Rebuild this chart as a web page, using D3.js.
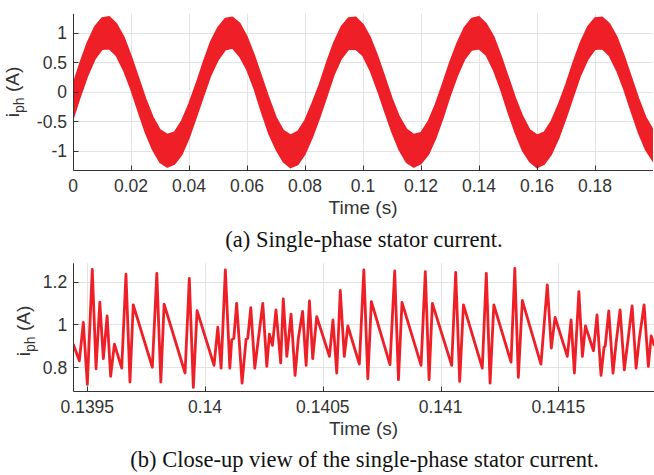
<!DOCTYPE html>
<html>
<head>
<meta charset="utf-8">
<script src="https://cdn.jsdelivr.net/npm/d3@7"></script>
<style>
  body { margin: 0; background: #fff; }
  svg { display: block; }
</style>
</head>
<body>
<div id="chartRegion"></div>
<script>
/* (a) stator current over 0.2 s - the ripple is drawn as a band (upper / lower envelope) */
var tTop = [0, 0.0025, 0.005, 0.0075, 0.01, 0.0125, 0.015, 0.0175, 0.02, 0.0225,
  0.025, 0.0275, 0.03, 0.0325, 0.035, 0.0375, 0.04, 0.0425, 0.045, 0.0475,
  0.05, 0.0525, 0.055, 0.0575, 0.06, 0.0625, 0.065, 0.0675, 0.07, 0.0725,
  0.075, 0.0775, 0.08, 0.0825, 0.085, 0.0875, 0.09, 0.0925, 0.095, 0.0975,
  0.1, 0.1025, 0.105, 0.1075, 0.11, 0.1125, 0.115, 0.1175, 0.12, 0.1225,
  0.125, 0.1275, 0.13, 0.1325, 0.135, 0.1375, 0.14, 0.1425, 0.145, 0.1475,
  0.15, 0.1525, 0.155, 0.1575, 0.16, 0.1625, 0.165, 0.1675, 0.17, 0.1725,
  0.175, 0.1775, 0.18, 0.1825, 0.185, 0.1875, 0.19, 0.1925, 0.195, 0.1975, 0.2];

var iUpper = [0.12, 0.50, 0.84, 1.10, 1.25, 1.27, 1.15, 0.93, 0.61, 0.25, -0.11, -0.42, -0.64, -0.72, -0.68, -0.49, -0.20,
  0.14, 0.51, 0.85, 1.09, 1.24, 1.26, 1.16, 0.93, 0.62, 0.26, -0.10, -0.43, -0.65, -0.73, -0.67, -0.48, -0.19,
  0.13, 0.50, 0.84, 1.10, 1.25, 1.26, 1.14, 0.92, 0.61, 0.25, -0.11, -0.42, -0.63, -0.72, -0.69, -0.50, -0.21,
  0.14, 0.51, 0.83, 1.09, 1.24, 1.27, 1.15, 0.94, 0.62, 0.26, -0.10, -0.41, -0.64, -0.73, -0.68, -0.49, -0.20,
  0.13, 0.50, 0.84, 1.10, 1.25, 1.26, 1.15, 0.93, 0.61, 0.25, -0.11, -0.43, -0.64];

var iLower = [-0.46, -0.08, 0.27, 0.55, 0.72, 0.73, 0.61, 0.36, 0.04, -0.33, -0.69, -0.98, -1.19, -1.27, -1.22, -1.06, -0.78,
  -0.43, -0.07, 0.28, 0.54, 0.71, 0.74, 0.60, 0.37, 0.05, -0.34, -0.70, -0.97, -1.18, -1.28, -1.23, -1.05, -0.77,
  -0.44, -0.08, 0.29, 0.56, 0.72, 0.72, 0.61, 0.36, 0.03, -0.33, -0.68, -0.98, -1.19, -1.27, -1.21, -1.06, -0.79,
  -0.45, -0.07, 0.27, 0.55, 0.71, 0.73, 0.62, 0.37, 0.04, -0.34, -0.69, -0.99, -1.18, -1.28, -1.22, -1.05, -0.78,
  -0.44, -0.08, 0.28, 0.55, 0.72, 0.73, 0.61, 0.36, 0.04, -0.33, -0.69, -0.98, -1.17];

var xTicksTop = [0, 0.02, 0.04, 0.06, 0.08, 0.1, 0.12, 0.14, 0.16, 0.18];
var yTicksTop = [-1, -0.5, 0, 0.5, 1];

/* (b) close-up, vertices */
var tZoom = [0.139441, 0.139466, 0.139483, 0.139500, 0.139521, 0.139537, 0.139553, 0.139568, 0.139584, 0.139599,
  0.139615, 0.139646, 0.139664, 0.139681, 0.139695, 0.139776, 0.139795, 0.139812, 0.139826, 0.139915,
  0.139933, 0.139950, 0.139966, 0.140038, 0.140054, 0.140068, 0.140086, 0.140105, 0.140113, 0.140122,
  0.140134, 0.140157, 0.140174, 0.140181, 0.140194, 0.140211, 0.140226, 0.140245, 0.140262, 0.140273,
  0.140286, 0.140301, 0.140321, 0.140332, 0.140347, 0.140365, 0.140382, 0.140396, 0.140414, 0.140429,
  0.140443, 0.140457, 0.140474, 0.140528, 0.140543, 0.140559, 0.140574, 0.140591, 0.140606, 0.140655,
  0.140674, 0.140691, 0.140706, 0.140785, 0.140805, 0.140821, 0.140836, 0.140917, 0.140935, 0.140951,
  0.140965, 0.141047, 0.141064, 0.141081, 0.141097, 0.141177, 0.141194, 0.141210, 0.141226, 0.141299,
  0.141315, 0.141330, 0.141347, 0.141426, 0.141453, 0.141470, 0.141486, 0.141538, 0.141554, 0.141568,
  0.141587, 0.141602, 0.141615, 0.141649, 0.141664, 0.141681, 0.141694, 0.141699, 0.141714, 0.141732,
  0.141745, 0.141762, 0.141780, 0.141796, 0.141813, 0.141830, 0.141844, 0.141864, 0.141882, 0.141894, 0.141906];

var iZoom = [0.905, 0.83, 1.01, 0.72, 1.258, 0.793, 1.104, 0.84, 1.04, 0.758,
  0.908, 0.796, 1.235, 0.731, 1.092, 0.80, 1.239, 0.731, 1.095, 0.773,
  1.215, 0.706, 1.065, 0.809, 0.987, 0.796, 1.255, 0.796, 0.928, 0.935,
  1.099, 0.726, 0.931, 0.935, 1.079, 0.796, 0.931, 1.099, 0.804, 0.955,
  0.902, 1.068, 0.82, 1.12, 0.851, 1.048, 0.762, 0.936, 1.061, 0.809,
  1.11, 0.84, 1.037, 0.851, 1.021, 0.773, 1.159, 0.851, 0.993, 0.815,
  1.255, 0.746, 1.107, 0.812, 1.25, 0.742, 1.103, 0.809, 1.247, 0.742,
  1.099, 0.809, 1.244, 0.734, 1.092, 0.796, 1.239, 0.726, 1.092, 0.824,
  1.262, 0.753, 1.112, 0.815, 1.185, 0.89, 1.033, 0.851, 1.021, 0.773,
  1.154, 0.851, 0.993, 0.877, 1.045, 0.762, 0.893, 0.90, 1.063, 0.773,
  0.913, 1.068, 0.788, 0.931, 1.087, 0.796, 0.936, 1.092, 0.804, 0.947, 0.905];

var xTicksZoom = [0.1395, 0.14, 0.1405, 0.141, 0.1415];
var yTicksZoom = [0.8, 1, 1.2];

var RED = "#ee1f26";
var AX = "#333333";
var GRID = "#e3e3e3";
var SANS = "'Liberation Sans', Arial, Helvetica, sans-serif";
var SERIF = "'Liberation Serif', 'Times New Roman', serif";

var svg = d3.select("#chartRegion").append("svg").attr("width", 654).attr("height", 475);

/* draws grid, axis lines, ticks and labels for one panel, returns the scales */
function drawFrame(p) {
	var x = d3.scaleLinear().domain(p.xDomain).range([p.left, p.right]);
	var y = d3.scaleLinear().domain(p.yDomain).range([p.bottom, p.top]);
	var g = svg.append("g");

	g.selectAll(".gx").data(p.xTicks).enter().append("line")
		.attr("x1", function(d) { return Math.round(x(d)) + 0.5; })
		.attr("x2", function(d) { return Math.round(x(d)) + 0.5; })
		.attr("y1", p.top).attr("y2", p.bottom)
		.attr("stroke", GRID).attr("stroke-width", 1);
	g.selectAll(".gy").data(p.yTicks).enter().append("line")
		.attr("y1", function(d) { return Math.round(y(d)) + 0.5; })
		.attr("y2", function(d) { return Math.round(y(d)) + 0.5; })
		.attr("x1", p.left).attr("x2", p.right)
		.attr("stroke", GRID).attr("stroke-width", 1);

	var clipId = "clip" + p.name;
	svg.append("clipPath").attr("id", clipId).append("rect")
		.attr("x", p.left).attr("y", p.top)
		.attr("width", p.right - p.left).attr("height", p.bottom - p.top);

	var plot = svg.append("g").attr("clip-path", "url(#" + clipId + ")");

	var ax = svg.append("g");
	var xl = Math.round(p.left) + 0.5, yb = Math.round(p.bottom) + 0.5;
	ax.append("line").attr("x1", xl).attr("x2", xl).attr("y1", p.top).attr("y2", yb)
		.attr("stroke", AX).attr("stroke-width", 1);
	ax.append("line").attr("x1", xl).attr("x2", p.right).attr("y1", yb).attr("y2", yb)
		.attr("stroke", AX).attr("stroke-width", 1);

	/* inward tick marks */
	ax.selectAll(".tx").data(p.xTicks).enter().append("line")
		.attr("x1", function(d) { return Math.round(x(d)) + 0.5; })
		.attr("x2", function(d) { return Math.round(x(d)) + 0.5; })
		.attr("y1", yb).attr("y2", yb - 5)
		.attr("stroke", AX).attr("stroke-width", 1);
	ax.selectAll(".ty").data(p.yTicks).enter().append("line")
		.attr("y1", function(d) { return Math.round(y(d)) + 0.5; })
		.attr("y2", function(d) { return Math.round(y(d)) + 0.5; })
		.attr("x1", xl).attr("x2", xl + 5)
		.attr("stroke", AX).attr("stroke-width", 1);

	ax.selectAll(".lx").data(p.xTicks).enter().append("text")
		.attr("x", function(d) { return x(d); })
		.attr("y", p.bottom + 22)
		.attr("text-anchor", "middle")
		.attr("font-family", SANS).attr("font-size", 17.5).attr("fill", AX)
		.text(function(d) { return String(d); });
	ax.selectAll(".ly").data(p.yTicks).enter().append("text")
		.attr("x", p.left - 6)
		.attr("y", function(d) { return y(d); })
		.attr("dy", "0.36em")
		.attr("text-anchor", "end")
		.attr("font-family", SANS).attr("font-size", 17.5).attr("fill", AX)
		.text(function(d) { return String(d); });

	ax.append("text")
		.attr("x", (p.left + p.right) / 2).attr("y", p.bottom + 44)
		.attr("text-anchor", "middle")
		.attr("font-family", SANS).attr("font-size", 19).attr("fill", AX)
		.text("Time (s)");

	var yl = ax.append("text")
		.attr("transform", "translate(" + p.yLabelX + "," + p.yLabelY + ") rotate(-90)")
		.attr("text-anchor", "middle")
		.attr("font-family", SANS).attr("font-size", 19).attr("fill", AX);
	yl.append("tspan").text("i");
	yl.append("tspan").attr("dy", 5).attr("font-size", 14).text("ph");
	yl.append("tspan").attr("dy", -5).text(" (A)");

	svg.append("text")
		.attr("x", (p.left + p.right) / 2 + 1).attr("y", p.captionY)
		.attr("text-anchor", "middle")
		.attr("font-family", SERIF).attr("font-size", 22.5).attr("fill", "#111")
		.text(p.caption);

	return { x: x, y: y, plot: plot };
}

function plotTop() {
	var f = drawFrame({
		name: "a", left: 73, right: 653, top: 13.8, bottom: 170,
		xDomain: [0, 0.2], yDomain: [-1.32, 1.32],
		xTicks: xTicksTop, yTicks: yTicksTop,
		yLabelX: 19, yLabelY: 92, captionY: 247,
		caption: "(a) Single-phase stator current."
	});
	var area = d3.area()
		.x(function(d, i) { return f.x(tTop[i]); })
		.y0(function(d, i) { return f.y(iLower[i]); })
		.y1(function(d, i) { return f.y(iUpper[i]); });
	f.plot.append("path").datum(tTop).attr("d", area)
		.attr("fill", RED).attr("stroke", RED).attr("stroke-width", 1.5)
		.attr("stroke-linejoin", "round");
}

function plotZoom() {
	var f = drawFrame({
		name: "b", left: 73.2, right: 654, top: 263.3, bottom: 391,
		xDomain: [0.13944, 0.141906], yDomain: [0.689, 1.286],
		xTicks: xTicksZoom, yTicks: yTicksZoom,
		yLabelX: 30, yLabelY: 331, captionY: 467,
		caption: "(b) Close-up view of the single-phase stator current."
	});
	var line = d3.line()
		.x(function(d, i) { return f.x(tZoom[i]); })
		.y(function(d) { return f.y(d); });
	f.plot.append("path").datum(iZoom).attr("d", line)
		.attr("fill", "none").attr("stroke", RED).attr("stroke-width", 2.8)
		.attr("stroke-linejoin", "round").attr("stroke-linecap", "round");
}

plotTop();
plotZoom();
</script>
</body>
</html>
